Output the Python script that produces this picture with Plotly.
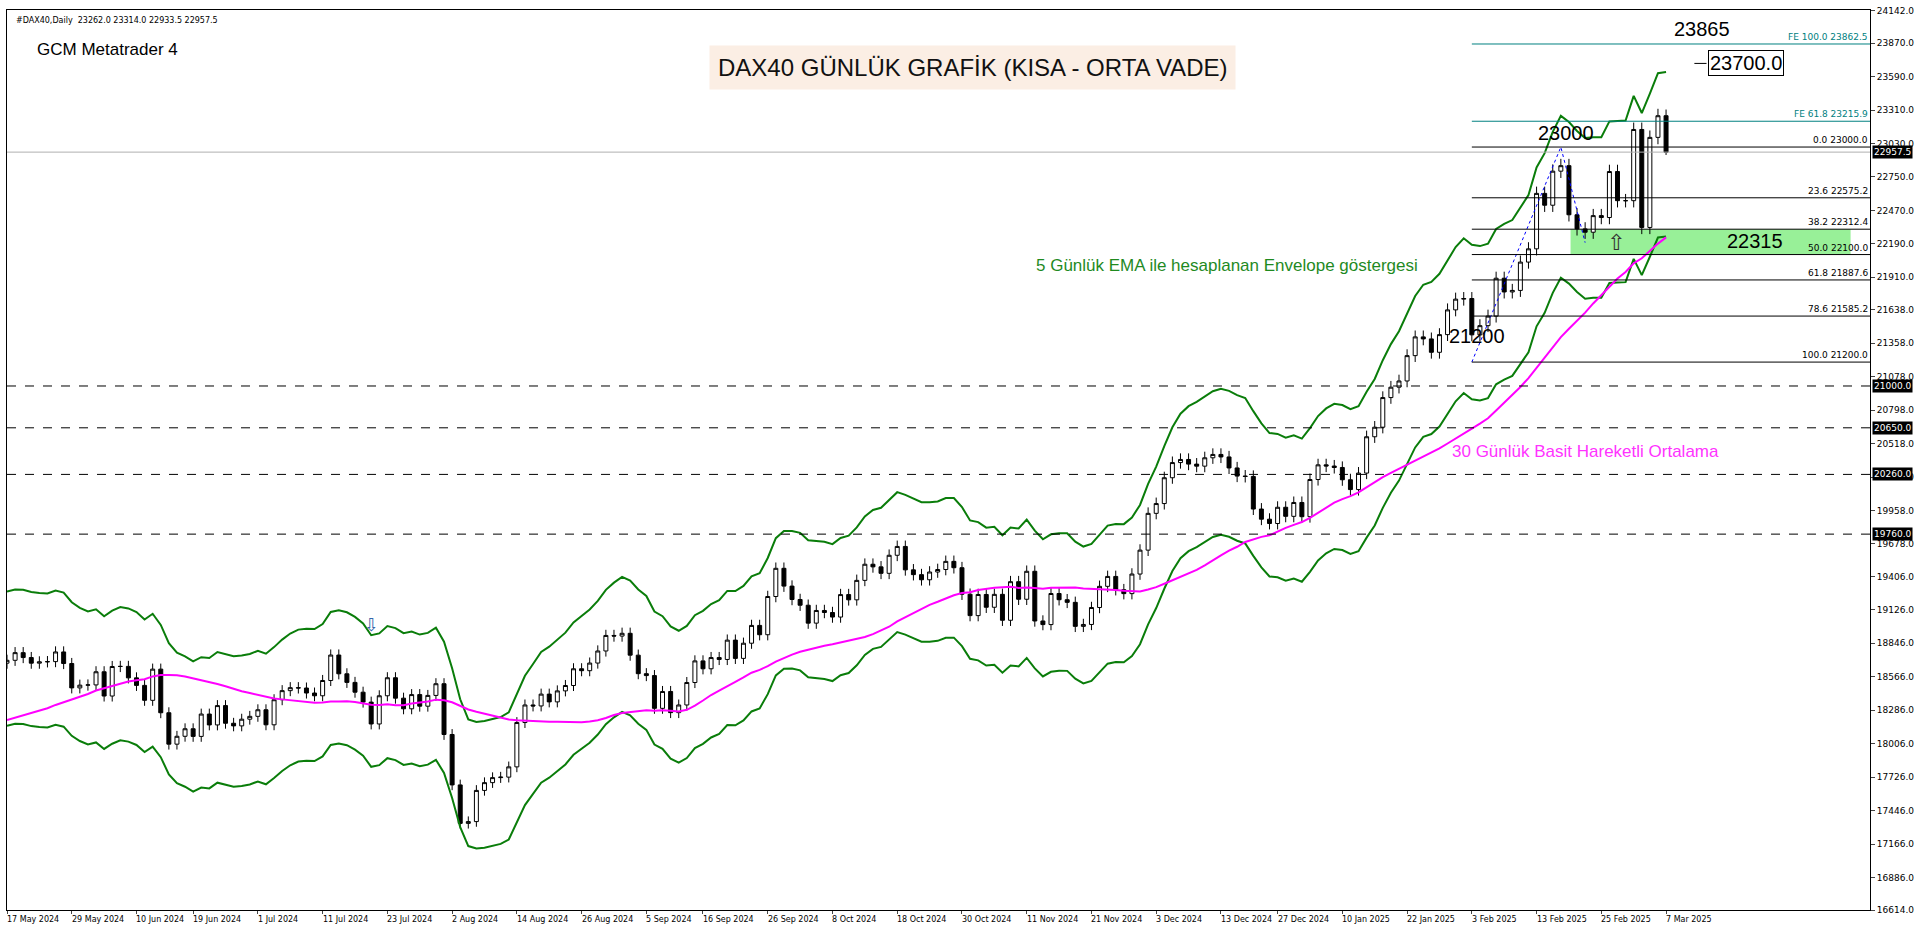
import pandas as pd
import plotly.graph_objects as go

# daily closes (17 May 2024 .. 7 Mar 2025)
closes = [
    18704, 18768, 18727, 18680, 18691, 18693, 18774, 18677, 18473, 18496, 18498,
    18608, 18405, 18652, 18653, 18557, 18494, 18369, 18630, 18265, 18002,
    18068, 18131, 18067, 18254, 18163, 18325, 18177, 18155, 18211, 18235,
    18290, 18164, 18374, 18450, 18475, 18472, 18430, 18407, 18535, 18748,
    18591, 18519, 18437, 18354, 18171, 18407, 18558, 18387, 18298, 18417,
    18320, 18410, 18508,
    18083, 17661, 17339, 17354, 17615, 17680, 17722, 17726, 17812, 18183, 18330, 18322,
    18421, 18356, 18448, 18493, 18633, 18617, 18681, 18782, 18912, 18907,
    18930, 18747, 18592, 18576, 18302, 18443, 18266, 18330, 18518, 18699,
    18633, 18727, 18711, 18873, 18720, 18847, 18996, 18918, 19238, 19474, 19325,
    19213, 19165, 19015, 19121, 19104, 19066, 19254, 19210, 19373,
    19508, 19486, 19432, 19583, 19657, 19461, 19421, 19378, 19443, 19464,
    19532, 19479, 19257, 19078,
    19255, 19148, 19256, 19039, 19362, 19215, 19449, 19033, 19003, 19263, 19211,
    19189, 18988, 19004, 19146, 19323, 19406, 19295, 19262, 19426, 19626,
    19934, 20016, 20232, 20359, 20385, 20346, 20329, 20399, 20427, 20406,
    20314, 20246, 20243, 19970, 19885, 19849, 19985, 19909,
    20025, 19906, 20217, 20340, 20330, 20318, 20215, 20133, 20271, 20575, 20655, 20903,
    20990, 21042, 21254, 21411, 21394, 21282, 21430, 21637, 21727, 21732,
    21428, 21505, 21585, 21902, 21787, 21800, 22037, 22148, 22612, 22513,
    22798, 22844, 22433, 22315, 22287, 22426, 22410, 22795, 22551, 22551,
    23147, 22327, 23081, 23262, 22957,
]
first_open = 18680
# closes before the visible range, only used to warm up the averages
prior_closes = [18175, 18318, 18076, 18097, 17955, 17930, 18027, 17767, 17770, 17837,
                17737, 17860, 18137, 18088, 17917, 18161, 18118, 17932, 17897, 18001,
                18175, 18430, 18498, 18686, 18773, 18742, 18716, 18869, 18738]

holidays = ["2024-12-24", "2024-12-25", "2024-12-26", "2024-12-31", "2025-01-01"]
tick_dates = ["2024-05-17", "2024-05-29", "2024-06-10", "2024-06-19", "2024-07-01",
              "2024-07-11", "2024-07-23", "2024-08-02", "2024-08-14", "2024-08-26",
              "2024-09-05", "2024-09-16", "2024-09-26", "2024-10-08", "2024-10-18",
              "2024-10-30", "2024-11-11", "2024-11-21", "2024-12-03", "2024-12-13",
              "2024-12-27", "2025-01-10", "2025-01-22", "2025-02-03", "2025-02-13",
              "2025-02-25", "2025-03-07"]
y_ticks = [24142, 23870, 23590, 23310, 23030, 22750, 22470, 22190, 21910, 21638, 21358,
           21078, 20798, 20518, 20238, 19958, 19678, 19406, 19126, 18846, 18566, 18286,
           18006, 17726, 17446, 17166, 16886, 16614]
fib_levels = [0.0, 23.6, 38.2, 50.0, 61.8, 78.6, 100.0]
fib_prices = [23000.0, 22575.2, 22312.4, 22100.0, 21887.6, 21585.2, 21200.0]
fe_levels = [100.0, 61.8]
fe_prices = [23862.5, 23215.9]
h_levels = [21000.0, 20650.0, 20260.0, 19760.0]
last_price = 22957.5

dates = [d for d in pd.bdate_range("2024-05-17", "2025-03-07")
         if d.strftime("%Y-%m-%d") not in holidays]
idx = list(range(len(closes)))
date_pos = {d.strftime("%Y-%m-%d"): i for i, d in enumerate(dates)}

opens = [first_open] + closes[:-1]
opens[-1] = 23262
highs = [max(o, c) * 1.0025 for o, c in zip(opens, closes)]
lows = [min(o, c) * 0.9975 for o, c in zip(opens, closes)]
highs[-1], lows[-1] = 23314.0, 22933.5

full = pd.Series(prior_closes + closes, dtype=float)
n0 = len(prior_closes)
sma30 = full.rolling(30, min_periods=1).mean().iloc[n0:].tolist()
ema5 = full.ewm(span=5, adjust=False).mean().iloc[n0:]
env_up = (ema5 * 1.03).tolist()
env_dn = (ema5 * 0.97).tolist()

X_END = 230.2
fib_x0 = date_pos["2025-02-03"]

fig = go.Figure()
fig.add_trace(go.Candlestick(
    x=idx, open=opens, high=highs, low=lows, close=closes,
    increasing=dict(line=dict(color="black", width=1), fillcolor="white"),
    decreasing=dict(line=dict(color="black", width=1), fillcolor="black"),
    whiskerwidth=0, showlegend=False))
fig.add_trace(go.Scatter(x=idx, y=env_up, mode="lines", line=dict(color="#0a7d0a", width=2), showlegend=False))
fig.add_trace(go.Scatter(x=idx, y=env_dn, mode="lines", line=dict(color="#0a7d0a", width=2), showlegend=False))
fig.add_trace(go.Scatter(x=idx, y=sma30, mode="lines", line=dict(color="#ff00ff", width=2), showlegend=False))
fig.add_trace(go.Scatter(x=[fib_x0, date_pos["2025-02-18"], date_pos["2025-02-21"]],
                         y=[21200, 23000, 22200], mode="lines",
                         line=dict(color="blue", width=1, dash="dot"), showlegend=False))

shapes = []
# support zone
shapes.append(dict(type="rect", x0=193.2, x1=227.8, y0=22100, y1=22312.4,
                   fillcolor="#98f098", line=dict(width=0), layer="below"))
for p in h_levels:
    shapes.append(dict(type="line", x0=0, x1=X_END, y0=p, y1=p,
                       line=dict(color="black", width=1, dash="dash")))
shapes.append(dict(type="line", x0=0, x1=X_END, y0=last_price, y1=last_price,
                   line=dict(color="#b0b0b0", width=1)))
for p in fib_prices:
    shapes.append(dict(type="line", x0=fib_x0, x1=X_END, y0=p, y1=p, line=dict(color="black", width=1)))
for p in fe_prices:
    shapes.append(dict(type="line", x0=fib_x0, x1=X_END, y0=p, y1=p, line=dict(color="#008080", width=1)))
shapes.append(dict(type="line", x0=208.5, x1=210, y0=23700, y1=23700, line=dict(color="black", width=1)))

ann = []
for lv, p in zip(fib_levels, fib_prices):
    ann.append(dict(x=X_END, y=p, text=f"{lv:.1f} {p:.1f}", showarrow=False, xanchor="right",
                    yanchor="bottom", font=dict(size=9, color="black")))
for lv, p in zip(fe_levels, fe_prices):
    ann.append(dict(x=X_END, y=p, text=f"FE {lv:.1f} {p:.1f}", showarrow=False, xanchor="right",
                    yanchor="bottom", font=dict(size=9, color="#008080")))
for p in h_levels + [last_price]:
    ann.append(dict(x=1, xref="paper", y=p, text=f"{p:.1f}", showarrow=False, xanchor="left", xshift=2,
                    bgcolor="black", font=dict(size=9, color="white"), borderpad=1))
for d in tick_dates:
    ann.append(dict(x=date_pos[d], y=-2, yref="paper", text=pd.Timestamp(d).strftime("%-d %b %Y"),
                    showarrow=False, xanchor="left", yanchor="top", xshift=-2,
                    font=dict(size=8, color="black")))
big = dict(family="Liberation Sans", size=20, color="black")
ann += [
    dict(x=209.5, y=23989, text="23865", showarrow=False, font=big),
    dict(x=210.2, y=23700, text="23700.0", showarrow=False, font=big, xanchor="left",
         bordercolor="black", borderwidth=1, borderpad=1, bgcolor="white"),
    dict(x=192.6, y=23120, text="23000", showarrow=False, font=big),
    dict(x=216, y=22210, text="22315", showarrow=False, font=big),
    dict(x=181.6, y=21422, text="21200", showarrow=False, font=big),
    dict(x=198.8, y=22200, text="⇧", showarrow=False, font=dict(size=22, color="#333")),
    dict(x=45, y=19000, text="⇩", showarrow=False, font=dict(size=18, color="#3366aa")),
    dict(x=150.7, y=22005, text="5 Günlük EMA ile hesaplanan Envelope göstergesi", showarrow=False,
         font=dict(family="Liberation Sans", size=17, color="#1f8a1f")),
    dict(x=195, y=20451, text="30 Günlük Basit Hareketli Ortalama", showarrow=False,
         font=dict(family="Liberation Sans", size=17, color="#ff33ff")),
    dict(x=0.518, y=43, xref="paper", yref="paper", text="DAX40 GÜNLÜK GRAFİK (KISA - ORTA VADE)",
         showarrow=False, font=dict(family="Liberation Sans", size=24, color="#111"),
         bgcolor="#fbeee4", borderpad=8),
    dict(x=0.015, y=36, xref="paper", yref="paper", text="GCM Metatrader 4", showarrow=False,
         xanchor="left", font=dict(family="Liberation Sans", size=17, color="black")),
    dict(x=0.004, y=12, xref="paper", yref="paper", text="#DAX40,Daily  23262.0 23314.0 22933.5 22957.5",
         showarrow=False, xanchor="left", font=dict(size=8, color="black")),
]
# paper y given in pixels from top -> convert
H_PLOT = 902
for a in ann:
    if a.get("yref") == "paper" and a["y"] > 1:
        a["y"] = 1 - (a["y"] - 8) / H_PLOT
    elif a.get("yref") == "paper" and a["y"] < 0:
        a["y"] = 0
        a["yshift"] = -3

fig.update_layout(
    width=1920, height=927, margin=dict(l=6, r=48, t=8, b=17),
    paper_bgcolor="white", plot_bgcolor="white",
    font=dict(family="DejaVu Sans", size=9, color="black"),
    shapes=shapes, annotations=ann, showlegend=False,
    xaxis=dict(range=[0, X_END], rangeslider=dict(visible=False), showgrid=False,
               tickvals=[date_pos[d] for d in tick_dates], showticklabels=False,
               ticks="outside", ticklen=3,
               showline=True, linecolor="black", mirror=True, zeroline=False),
    yaxis=dict(range=[16614, 24147], side="right", tickvals=y_ticks,
               ticktext=[f"{v:.1f}" for v in y_ticks], showgrid=False, ticks="outside", ticklen=4,
               tickfont=dict(size=9), showline=True, linecolor="black", mirror=True, zeroline=False),
)
fig.write_html("out.html", config={"displayModeBar": False})

# remove default page margin so the 1920x927 figure fits the window exactly
with open("out.html", encoding="utf-8") as f:
    html = f.read()
html = html.replace("<head>", "<head><style>html,body{margin:0;padding:0;overflow:hidden}</style>", 1)
with open("out.html", "w", encoding="utf-8") as f:
    f.write(html)
